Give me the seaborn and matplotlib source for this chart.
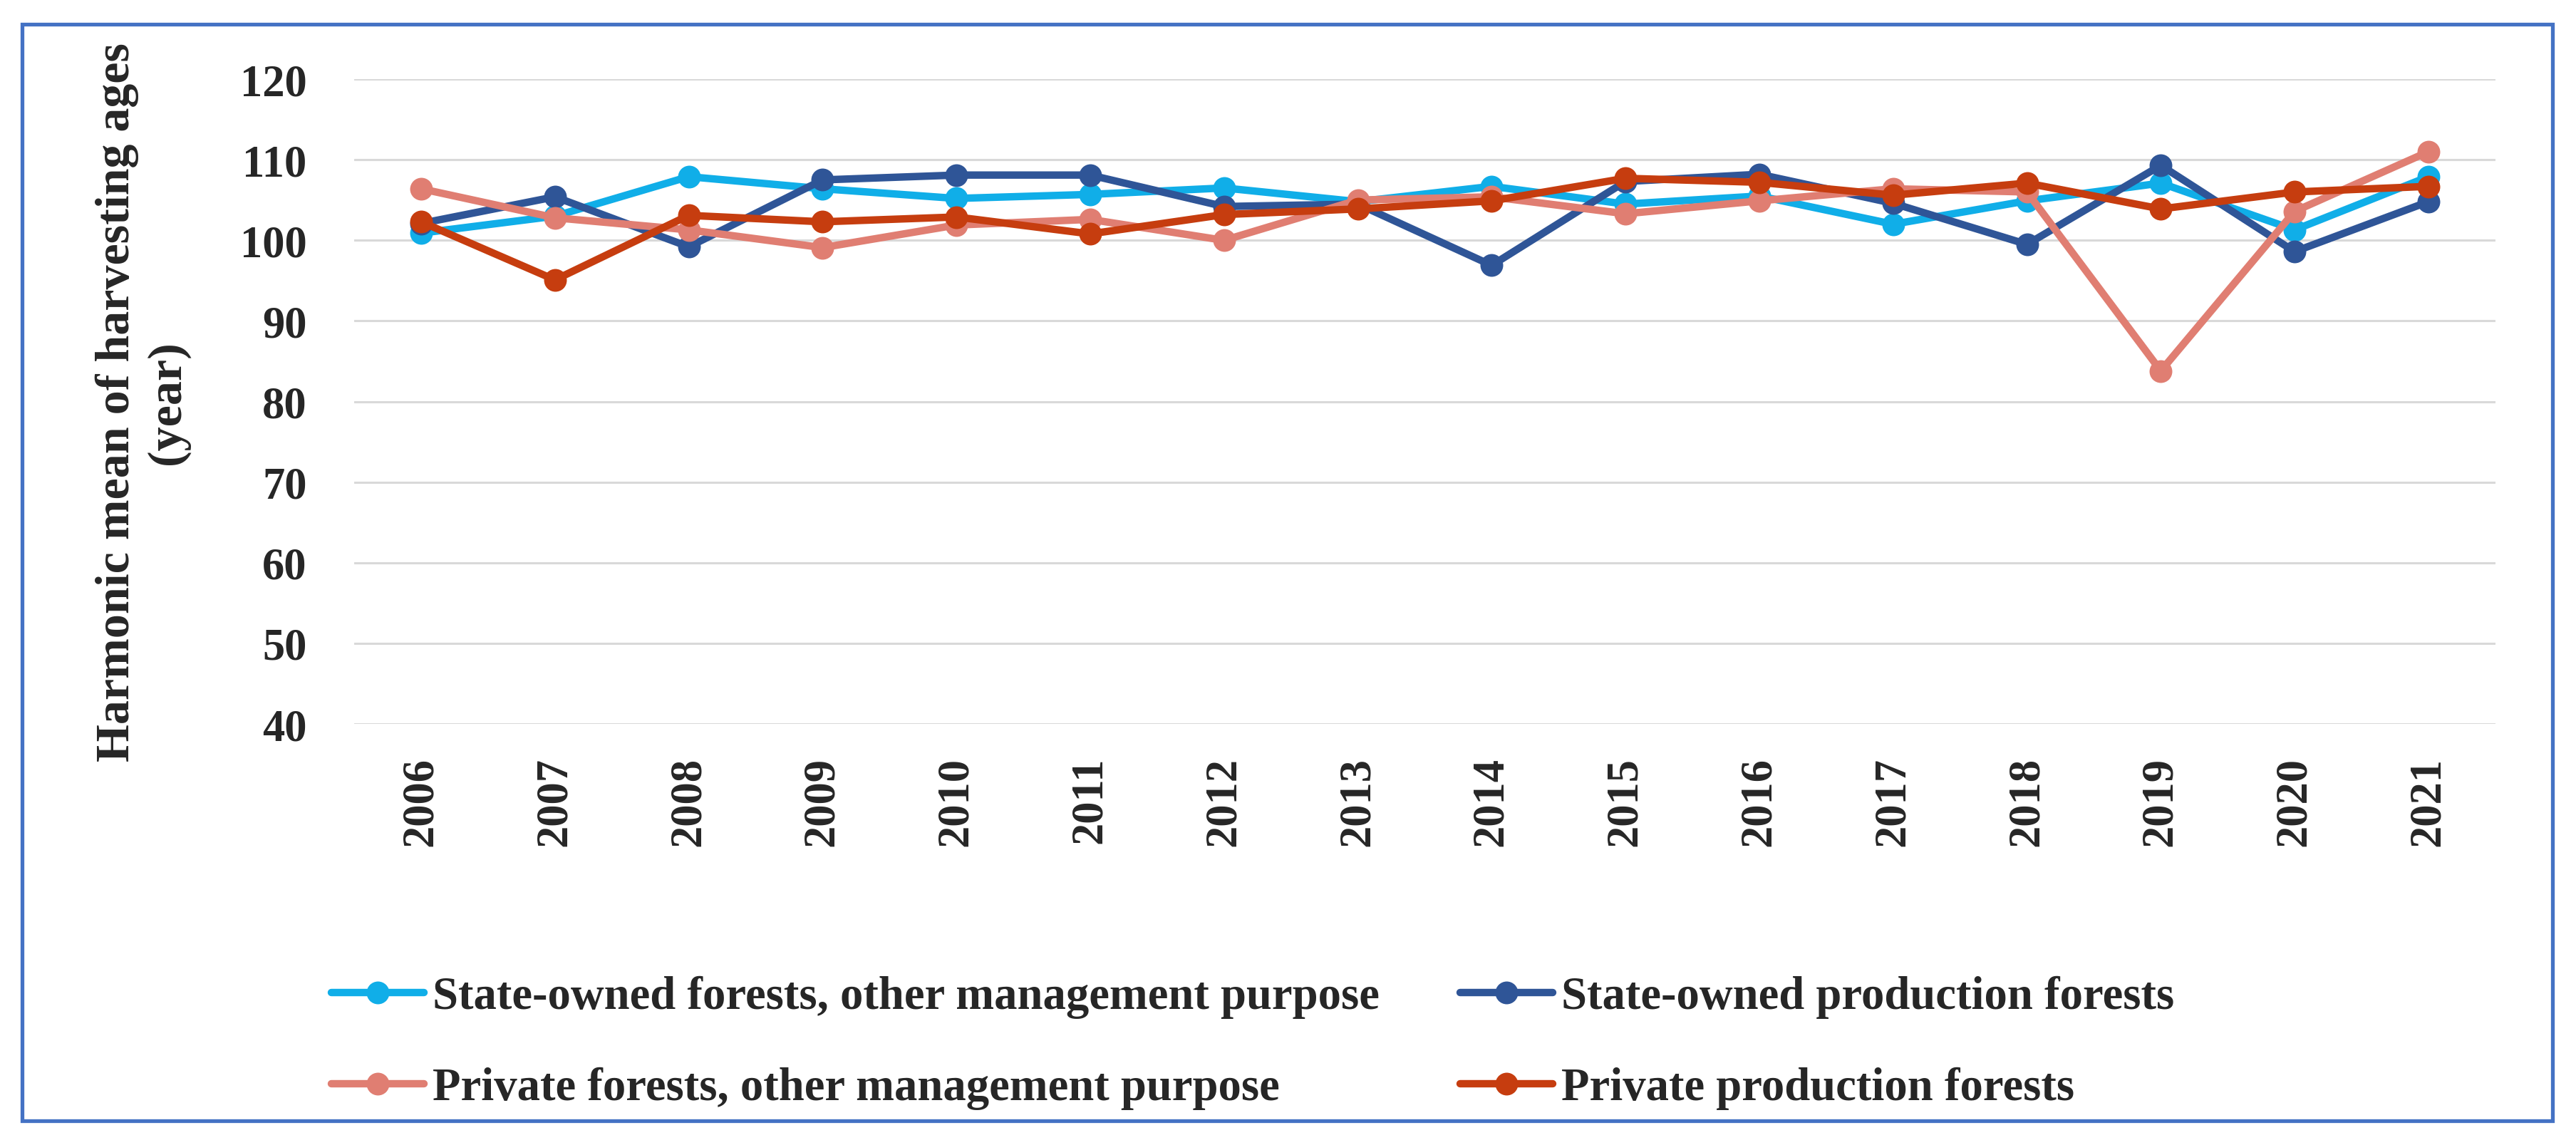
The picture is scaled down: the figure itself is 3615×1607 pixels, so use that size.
import pandas as pd
import matplotlib.pyplot as plt
import matplotlib.patches as mpatches
import seaborn as sns

# ------------------------------
# data
# ------------------------------
years = list(range(2006, 2022))

state_other = [100.9, 103.0, 107.9, 106.4, 105.2, 105.7, 106.5, 104.8,
               106.7, 104.5, 105.5, 102.0, 104.9, 107.1, 101.3, 107.9]
state_prod = [102.1, 105.4, 99.2, 107.5, 108.1, 108.1, 104.2, 104.5,
              96.9, 107.3, 108.2, 104.6, 99.5, 109.3, 98.6, 104.8]
private_other = [106.4, 102.8, 101.3, 99.1, 101.9, 102.6, 100.0, 105.0,
                 105.4, 103.3, 104.9, 106.4, 106.0, 83.8, 103.6, 111.0]
private_prod = [102.3, 95.1, 103.1, 102.3, 102.9, 100.8, 103.2, 103.9,
                104.9, 107.7, 107.2, 105.6, 107.1, 103.9, 106.0, 106.7]

series_names = [
    "State-owned forests, other management purpose",
    "State-owned production forests",
    "Private forests, other management purpose",
    "Private production forests",
]
series_values = [state_other, state_prod, private_other, private_prod]
colors = ["#10AEE8", "#2F5597", "#E07E72", "#C63D0F"]

rows = []
for name, vals in zip(series_names, series_values):
    for y, v in zip(years, vals):
        rows.append({"year": y, "value": v, "series": name})
df = pd.DataFrame(rows)

# ------------------------------
# style
# ------------------------------
sns.set_theme(style="white")
plt.rcParams["font.family"] = ["Liberation Serif", "DejaVu Serif"]
plt.rcParams["font.weight"] = "bold"

fig = plt.figure(figsize=(36.15, 16.08), dpi=100)
ax = fig.add_axes([0.1375, 0.3675, 0.8312, 0.5628])

sns.lineplot(
    data=df, x="year", y="value", hue="series",
    hue_order=series_names, palette=dict(zip(series_names, colors)),
    marker="o", markersize=23, markeredgewidth=0, linewidth=7.5,
    ax=ax,
)

ax.set_xlim(2005.5, 2021.5)
ax.set_ylim(40, 120)
ax.set_yticks(range(40, 121, 10))
ax.set_xticks(years)
ax.set_xticklabels([str(y) for y in years], rotation=90, fontsize=45, fontweight="bold")
ax.set_yticklabels([str(v) for v in range(40, 121, 10)], fontsize=45, fontweight="bold")
ax.tick_params(axis="y", length=0, pad=48)
ax.tick_params(axis="x", length=0, pad=33)
ax.grid(axis="y", color="#D9D9D9", linewidth=2.2)
ax.grid(axis="x", visible=False)
for s in ax.spines.values():
    s.set_visible(False)

ax.set_xlabel("")
ax.set_ylabel("Harmonic mean of harvesting ages\n(year)", fontsize=49,
              fontweight="bold", linespacing=1.2)
ax.yaxis.set_label_coords(-0.077, 0.5)

# legend: two columns under the plot
handles, labels = ax.get_legend_handles_labels()
ax.get_legend().remove()
order = [0, 2, 1, 3]
fig.legend([handles[i] for i in order], [labels[i] for i in order],
           ncol=2, loc="upper left", bbox_to_anchor=(0.1198, 0.168),
           frameon=False, handlelength=2.0, handletextpad=0.2,
           columnspacing=1.75, labelspacing=1.05, borderpad=0,
           prop={"weight": "bold", "size": 46.5})

# blue frame round the whole chart
fig.patches.append(mpatches.Rectangle(
    (0.0086, 0.0211), 0.9823, 0.957, transform=fig.transFigure,
    fill=False, edgecolor="#4472C4", linewidth=3.8))

fig.savefig("out.png", dpi=100, facecolor="white")
